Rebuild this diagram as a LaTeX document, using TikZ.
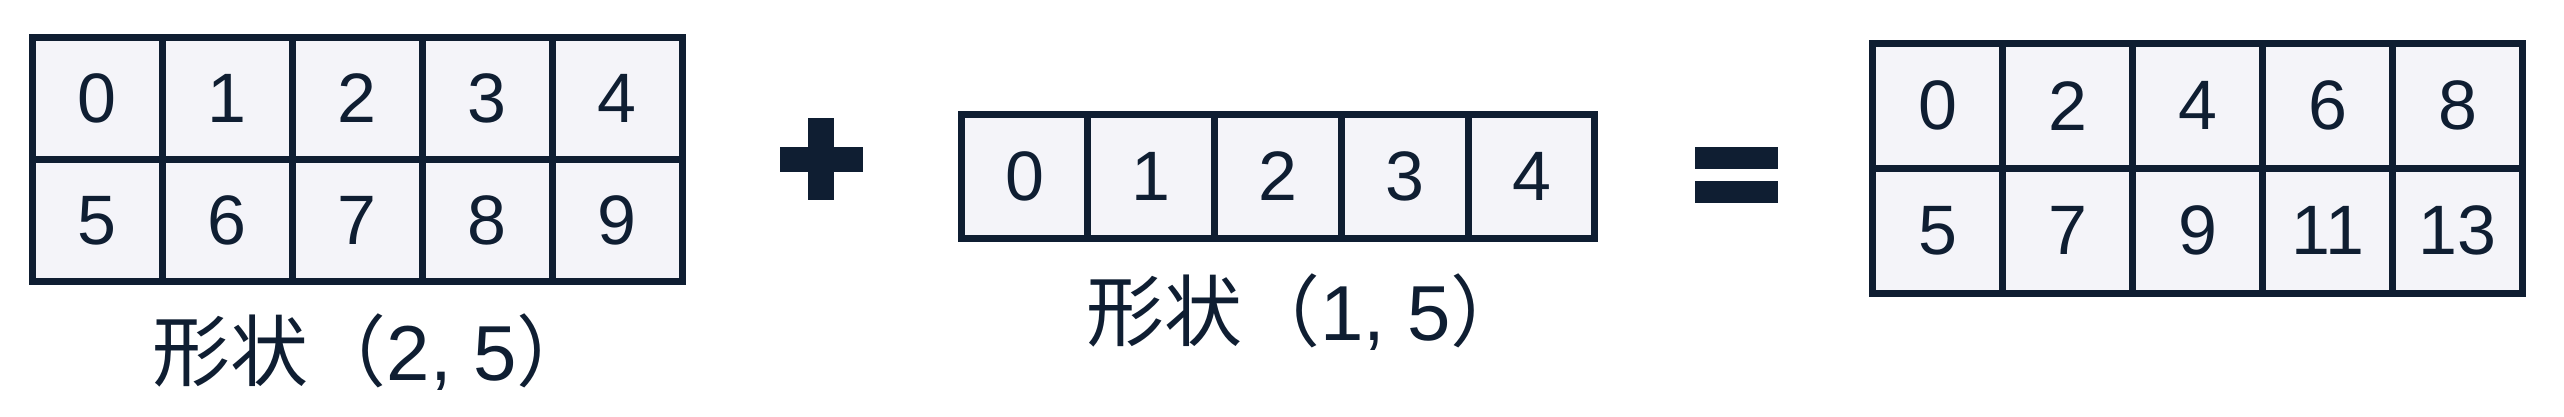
\documentclass[tikz,border=0pt]{standalone}
\usepackage{fontspec}
\setmainfont{Liberation Sans}
\newfontfamily\cjk{Noto Sans CJK SC}
\definecolor{inkblue}{HTML}{0F1E32}
\definecolor{cellfill}{HTML}{F4F4F9}
\newcommand\shapetext[1]{{\cjk 形状（}#1{\cjk ）}}
\tikzset{
  cell/.style={draw=inkblue, fill=cellfill, line width=3.5pt, inner sep=0pt, outer sep=0pt,
    text=inkblue, font=\fontsize{35}{35}\selectfont},
  shapelabel/.style={text=inkblue, font=\fontsize{39}{40}\selectfont, inner sep=0pt, anchor=west},
}

\begin{document}
\begin{tikzpicture}[x=0.5pt,y=-0.5pt]
\filldraw[color=white] (0,0) rectangle (2564,416);
% Drawing the (2,5) array
\foreach \r in {0,1} \foreach \c in {0,...,4} {
  \pgfmathtruncatemacro\v{5*\r+\c}
  \node[cell, minimum width=65pt, minimum height=61pt] (a-\r-\c) at (97+130*\c, 98+122*\r) {\v};
}
\node[shapelabel] (lbl-a) at (152,352) {\shapetext{2, 5}};
% Plus sign
\fill[inkblue] (780,147) rectangle (863,172);
\fill[inkblue] (808,118) rectangle (834,200);
% Drawing the (1,5) array
\foreach \c in {0,...,4} {
  \node[cell, minimum width=63.4pt, minimum height=62pt] (b-0-\c) at (1024.4+126.8*\c, 176) {\c};
}
\node[shapelabel] (lbl-b) at (1086,312) {\shapetext{1, 5}};
% Equals sign
\fill[inkblue] (1695,147) rectangle (1778,169);
\fill[inkblue] (1695,181) rectangle (1778,203);
% Drawing the result
\foreach \r in {0,1} \foreach \c in {0,...,4} {
  \pgfmathtruncatemacro\v{5*\r+2*\c}
  \node[cell, minimum width=65pt, minimum height=62.5pt] (c-\r-\c) at (1938+130*\c, 105.5+125*\r) {\v};
}
% Done
\end{tikzpicture}
\end{document}
